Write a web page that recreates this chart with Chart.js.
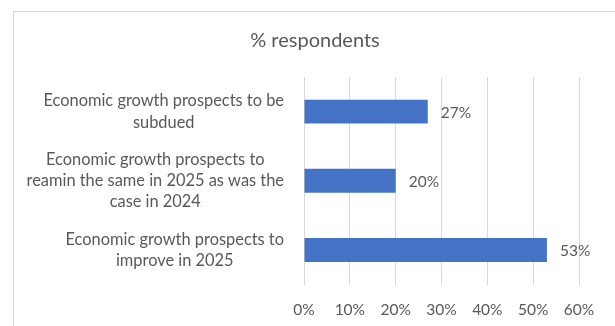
<!DOCTYPE html>
<html>
<head>
<meta charset="utf-8">
<script src="https://cdn.jsdelivr.net/npm/chart.js@4/dist/chart.umd.min.js"></script>
<style>
  html, body { margin: 0; padding: 0; background: #ffffff; }
  canvas { display: block; }
</style>
</head>
<body>
<canvas id="chart" width="615" height="326"></canvas>
<script>
// Survey outcome: share of respondents per expectation
const categories = [
  ["Economic growth prospects to be", "subdued"],
  ["Economic growth prospects to", "reamin the same in 2025 as was the", "case in 2024"],
  ["Economic growth prospects to", "improve in 2025"]
];
const respondents = [27, 20, 53];
const tickValues = [0, 10, 20, 30, 40, 50, 60];
const chartTitle = "% respondents";

const TEXT = "#595959";
const GRID = "#d9d9d9";
const FONT = "Lato, 'Open Sans', sans-serif";

// light frame around the chart
const framePlugin = {
  id: "frame",
  beforeDraw(chart) {
    const ctx = chart.ctx;
    ctx.save();
    ctx.strokeStyle = GRID;
    ctx.lineWidth = 1;
    ctx.strokeRect(13.5, 11.5, chart.width, chart.height);
    ctx.restore();
  }
};

// category labels: each block right-aligned against the axis, lines centred in the block
const blockLabelsPlugin = {
  id: "blockLabels",
  beforeDraw(chart) {
    const scale = chart.scales.y;
    // long wrapped lines may reach past the scale box into the left padding
    scale._computeLabelArea = () => undefined;
    const items = scale.getLabelItems(chart.chartArea);
    const ctx = chart.ctx;
    items.forEach(item => {
      const lines = Array.isArray(item.label) ? item.label : [item.label];
      ctx.save();
      ctx.font = item.font.string;
      const w = Math.max(...lines.map(l => ctx.measureText(l).width));
      ctx.restore();
      if (item.options.textAlign !== "center") {
        item.options.textAlign = "center";
        item.options.translation[0] -= w / 2;
      }
    });
  }
};

// value labels to the right of each bar
const valueLabelsPlugin = {
  id: "valueLabels",
  afterDatasetsDraw(chart) {
    const ctx = chart.ctx;
    const meta = chart.getDatasetMeta(0);
    ctx.save();
    ctx.font = "15.5px " + FONT;
    ctx.fillStyle = TEXT;
    ctx.textAlign = "left";
    ctx.textBaseline = "middle";
    meta.data.forEach((bar, i) => {
      ctx.fillText(respondents[i] + "%", bar.x + 13, bar.y + 1);
    });
    ctx.restore();
  }
};

new Chart(document.getElementById("chart"), {
  type: "bar",
  data: {
    labels: categories,
    datasets: [{
      data: respondents,
      backgroundColor: "#4472C4",
      borderWidth: 0,
      categoryPercentage: 1,
      barPercentage: 0.346
    }]
  },
  options: {
    indexAxis: "y",
    responsive: false,
    animation: false,
    devicePixelRatio: 1,
    layout: { padding: { left: 51, right: 36, top: 0, bottom: 0 } },
    plugins: {
      legend: { display: false },
      tooltip: { enabled: false },
      title: {
        display: true,
        text: chartTitle,
        color: TEXT,
        font: { family: FONT, size: 20, weight: "normal", lineHeight: 1.2 },
        padding: { top: 29, bottom: 24 }
      }
    },
    scales: {
      x: {
        min: 0,
        max: 60,
        afterBuildTicks(scale) {
          scale.ticks = tickValues.map(v => ({ value: v }));
        },
        afterFit(scale) { scale.height = 41; },
        grid: { color: GRID, lineWidth: 1, drawTicks: false },
        border: { display: false },
        ticks: {
          color: TEXT,
          padding: 16,
          font: { family: FONT, size: 15.5 },
          callback: v => v + "%"
        }
      },
      y: {
        afterFit(scale) { scale.width = 253; },
        grid: { display: false, drawTicks: false },
        border: { display: false },
        ticks: {
          color: TEXT,
          padding: 20,
          autoSkip: false,
          font: { family: FONT, size: 16.4, lineHeight: 1.3 }
        }
      }
    }
  },
  plugins: [framePlugin, blockLabelsPlugin, valueLabelsPlugin]
});
</script>
</body>
</html>
